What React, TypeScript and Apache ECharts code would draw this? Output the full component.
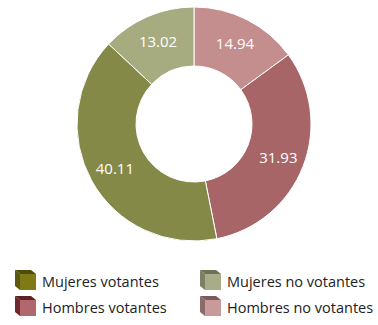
import React, { useEffect, useRef } from "react";
import * as echarts from "echarts";

const categories = ["Hombres no votantes", "Hombres votantes", "Mujeres votantes", "Mujeres no votantes"];
const values = [14.94, 31.93, 40.11, 13.02];
const sliceColors = ["#C48E8F", "#A86567", "#848947", "#A6AC7F"];

const legendNames = ["Mujeres votantes", "Mujeres no votantes", "Hombres votantes", "Hombres no votantes"];
const legendFront = ["#7F7A16", "#A9AD87", "#B0686C", "#C99A9A"];
const legendSide = ["#5C5810", "#7E8064", "#6E2A2E", "#8C6A6A"];
const legendTop = ["#4F4B0C", "#6E705A", "#5E2226", "#7A5C5C"];

export default function App() {
  const ref = useRef<HTMLDivElement>(null);
  useEffect(() => {
    document.body.style.margin = "0";
    const chart = echarts.init(ref.current!, null, { renderer: "svg" });
    const legendPos = [
      [15, 270],
      [200, 270],
      [15, 296],
      [200, 296],
    ];
    const graphics = legendNames.map((name, i) => ({
      type: "group",
      x: legendPos[i][0],
      y: legendPos[i][1],
      children: [
        { type: "polygon", shape: { points: [[0, 0], [5, 4], [5, 20], [0, 16]] }, style: { fill: legendSide[i] } },
        { type: "polygon", shape: { points: [[0, 0], [16, 0], [21, 4], [5, 4]] }, style: { fill: legendTop[i] } },
        { type: "rect", shape: { x: 5, y: 4, width: 16, height: 16 }, style: { fill: legendFront[i] } },
        {
          type: "text",
          x: 27,
          y: 11,
          style: {
            text: name,
            fill: "#222",
            font: "14.5px 'Open Sans', sans-serif",
            verticalAlign: "middle",
            align: "left",
          },
        },
      ],
    }));
    chart.setOption({
      animation: false,
      backgroundColor: "#fff",
      series: [
        {
          type: "pie",
          center: [194, 124],
          radius: [58, 117],
          startAngle: 90,
          clockwise: true,
          avoidLabelOverlap: false,
          label: {
            show: true,
            position: "inside",
            formatter: (p: any) => p.value.toFixed(2),
            color: "#fff",
            fontSize: 15,
            fontFamily: "'Open Sans', sans-serif",
          },
          labelLine: { show: false },
          itemStyle: { borderColor: "#fff", borderWidth: 1 },
          emphasis: { disabled: true },
          data: categories.map((c, i) => ({ name: c, value: values[i], itemStyle: { color: sliceColors[i] } })),
        },
      ],
      graphic: graphics,
    });
    return () => chart.dispose();
  }, []);
  return <div ref={ref} style={{ width: 378, height: 325 }} />;
}
